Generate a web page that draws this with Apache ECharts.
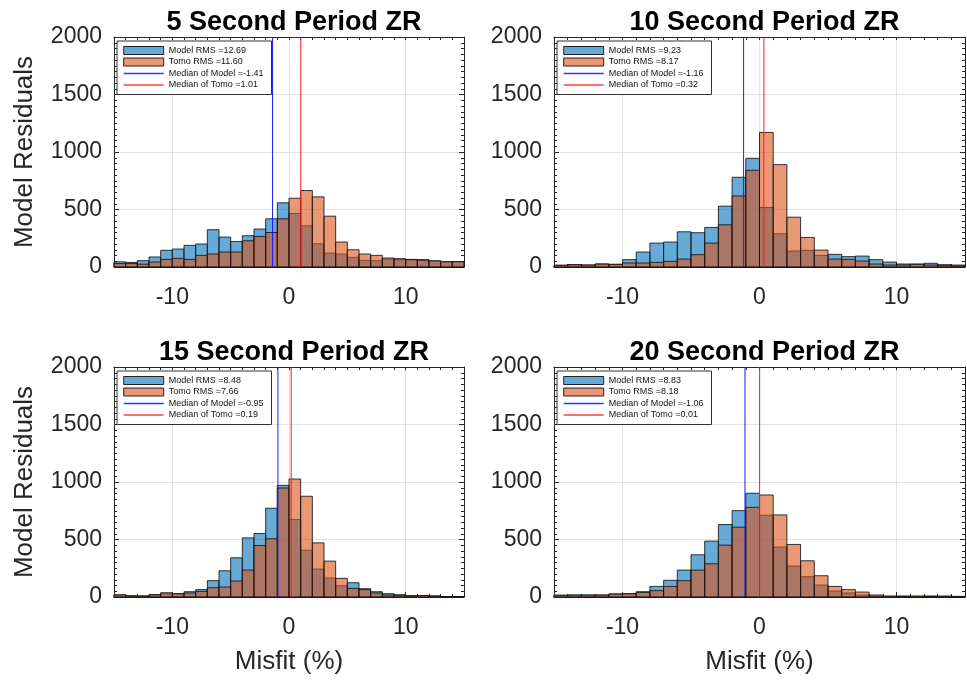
<!DOCTYPE html>
<html>
<head>
<meta charset="utf-8">
<script src="https://cdn.jsdelivr.net/npm/echarts@6/dist/echarts.min.js"></script>
<style>
html,body{margin:0;padding:0;background:#fff;}
#chart{width:967px;height:681px;}
</style>
</head>
<body>
<div id="chart"></div>
<script>
// ---------- DATA ----------
var binEdges = [-15,-14,-13,-12,-11,-10,-9,-8,-7,-6,-5,-4,-3,-2,-1,0,1,2,3,4,5,6,7,8,9,10,11,12,13,14,15];
var xTickLabels = [-10, 0, 10];
var yTicks = [0, 500, 1000, 1500, 2000];

var titles = ["5 Second Period ZR", "10 Second Period ZR", "15 Second Period ZR", "20 Second Period ZR"];

var model5  = [45,40,55,87,145,156,188,200,324,260,222,272,330,419,558,465,358,202,121,113,84,58,55,69,70,66,64,50,46,46];
var tomo5   = [30,30,25,43,66,75,66,101,113,130,130,228,266,300,419,598,665,610,442,217,150,113,101,78,70,64,60,55,46,46];
var model10 = [15,20,17,26,23,64,130,208,217,306,298,344,529,780,945,517,289,139,145,101,110,90,95,64,43,26,26,32,20,17];
var tomo10  = [15,20,17,26,23,35,35,40,49,69,107,208,367,618,841,1170,890,433,257,147,69,66,52,26,17,17,23,17,14,9];
var model15 = [15,10,9,20,30,29,46,64,142,228,341,514,552,772,971,673,407,243,165,98,124,72,46,29,20,12,12,9,3,3];
var tomo15  = [20,10,9,20,37,29,35,49,81,87,139,234,448,506,948,1026,876,471,312,162,75,64,35,17,12,9,12,9,3,3];
var model20 = [15,17,17,17,26,29,46,92,145,234,367,486,630,751,902,711,434,269,176,104,52,35,17,9,3,9,3,9,3,5];
var tomo20  = [15,17,17,17,26,29,40,55,92,142,234,289,451,607,780,887,714,457,315,185,92,64,43,17,9,3,9,3,9,5];

var modelRMS = ["12.69", "9.23", "8.48", "8.83"];
var tomoRMS  = ["11.60", "8.17", "7.66", "8.18"];
var modelMedian = [-1.41, -1.16, -0.95, -1.06];
var tomoMedian  = [1.01, 0.32, 0.19, 0.01];
var medianLabelModel = ["-1.41", "-1.16", "-0.95", "-1.06"];
var medianLabelTomo  = ["1.01", "0.32", "0.19", "0.01"];

var modelCounts = [model5, model10, model15, model20];
var tomoCounts  = [tomo5, tomo10, tomo15, tomo20];

// ---------- LAYOUT / STYLE ----------
var layout = [
  {left:114, top:37,  width:350, height:230, yName:true,  xName:false},
  {left:554, top:37,  width:411, height:230, yName:false, xName:false},
  {left:114, top:367, width:350, height:230, yName:true,  xName:true},
  {left:554, top:367, width:411, height:230, yName:false, xName:true}
];
var FONT = "'Liberation Sans', Arial, Helvetica, sans-serif";
var AXC = '#262626';
var modelFill = 'rgba(0,114,189,0.6)';
var tomoFill  = 'rgba(217,83,25,0.6)';
var edgeCol   = 'rgba(20,20,20,0.85)';
var blueLine  = '#1a1aff';
var redLine   = '#ff1a1a';

function pairs(counts){
  var out = [];
  for (var i = 0; i < counts.length; i++) out.push([binEdges[i], binEdges[i+1], counts[i]]);
  return out;
}
function histRender(fill){
  return function(params, api){
    var x0 = api.value(0), x1 = api.value(1), v = api.value(2);
    var p0 = api.coord([x0, v]);
    var p1 = api.coord([x1, 0]);
    return {
      type:'rect',
      shape:{x:p0[0], y:p0[1], width:p1[0]-p0[0], height:p1[1]-p0[1]},
      style:{fill:fill, stroke:edgeCol, lineWidth:1}
    };
  };
}

var option = {
  animation:false,
  backgroundColor:'#fff',
  title:[], grid:[], xAxis:[], yAxis:[], series:[], legend:[]
};

for (var p = 0; p < 4; p++){
  var L = layout[p];
  option.grid.push({left:L.left, top:L.top, width:L.width, height:L.height, containLabel:false});
  option.title.push({
    text:titles[p], left:L.left + L.width/2, top:L.top - 33, textAlign:'center',
    textStyle:{fontFamily:FONT, fontSize:27, fontWeight:'bold', color:'#000'}
  });
  // main bottom x axis
  option.xAxis.push({
    type:'value', gridIndex:p, position:'bottom', min:-15, max:15, interval:5,
    axisLine:{show:true, onZero:false, lineStyle:{color:AXC, width:1}},
    axisTick:{show:true, inside:true, length:5, customValues:xTickLabels, lineStyle:{color:AXC}},
    axisLabel:{show:true, customValues:xTickLabels, margin:19, fontSize:23, color:AXC, fontFamily:FONT},
    splitLine:{show:true, lineStyle:{color:'#e2e2e2', width:1}},
    name:L.xName ? 'Misfit (%)' : '', nameLocation:'middle', nameGap:52,
    nameTextStyle:{fontSize:26, color:AXC, fontFamily:FONT}
  });
  // minor ticks bottom
  option.xAxis.push({
    type:'value', gridIndex:p, position:'bottom', min:-15, max:15, interval:1,
    axisLine:{show:false, onZero:false},
    axisTick:{show:true, inside:true, length:3, lineStyle:{color:AXC}},
    axisLabel:{show:false}, splitLine:{show:false}
  });
  // top axis
  option.xAxis.push({
    type:'value', gridIndex:p, position:'top', min:-15, max:15, interval:1,
    axisLine:{show:true, onZero:false, lineStyle:{color:AXC, width:1}},
    axisTick:{show:true, inside:true, length:3, lineStyle:{color:AXC}},
    axisLabel:{show:false}, splitLine:{show:false}
  });
  // left y
  option.yAxis.push({
    type:'value', gridIndex:p, position:'left', min:0, max:2000, interval:500,
    axisLine:{show:true, onZero:false, lineStyle:{color:AXC, width:1}},
    axisTick:{show:true, inside:true, length:5, lineStyle:{color:AXC}},
    minorTick:{show:true, splitNumber:10, length:3, lineStyle:{color:AXC}},
    axisLabel:{show:true, margin:12, fontSize:23, color:AXC, fontFamily:FONT,
               formatter:function(v){ return String(v); }},
    splitLine:{show:true, lineStyle:{color:'#e2e2e2', width:1}},
    name:L.yName ? 'Model Residuals' : '', nameLocation:'middle', nameGap:76,
    nameTextStyle:{fontSize:26, color:AXC, fontFamily:FONT}
  });
  // right y
  option.yAxis.push({
    type:'value', gridIndex:p, position:'right', min:0, max:2000, interval:500,
    axisLine:{show:true, onZero:false, lineStyle:{color:AXC, width:1}},
    axisTick:{show:true, inside:true, length:5, lineStyle:{color:AXC}},
    minorTick:{show:true, splitNumber:10, length:3, lineStyle:{color:AXC}},
    axisLabel:{show:false}, splitLine:{show:false}
  });

  var nModel = 'Model RMS =' + modelRMS[p];
  var nTomo  = 'Tomo RMS =' + tomoRMS[p];
  var nMedM  = 'Median of Model =' + medianLabelModel[p];
  var nMedT  = 'Median of Tomo =' + medianLabelTomo[p];

  option.series.push({
    type:'custom', name:nModel, xAxisIndex:3*p, yAxisIndex:2*p,
    renderItem:histRender(modelFill), data:pairs(modelCounts[p]),
    encode:{x:[0,1], y:2}, itemStyle:{color:modelFill}, z:2
  });
  option.series.push({
    type:'custom', name:nTomo, xAxisIndex:3*p, yAxisIndex:2*p,
    renderItem:histRender(tomoFill), data:pairs(tomoCounts[p]),
    encode:{x:[0,1], y:2}, itemStyle:{color:tomoFill}, z:2
  });
  option.series.push({
    type:'line', name:nMedM, xAxisIndex:3*p, yAxisIndex:2*p, symbol:'none',
    data:[[modelMedian[p], 0], [modelMedian[p], 2000]],
    lineStyle:{color:blueLine, width:1}, itemStyle:{color:blueLine}, z:3
  });
  option.series.push({
    type:'line', name:nMedT, xAxisIndex:3*p, yAxisIndex:2*p, symbol:'none',
    data:[[tomoMedian[p], 0], [tomoMedian[p], 2000]],
    lineStyle:{color:redLine, width:1}, itemStyle:{color:redLine}, z:3
  });

  option.legend.push({
    orient:'vertical', left:L.left + 3, top:L.top + 4,
    itemWidth:40, itemHeight:8, itemGap:2.5,
    padding:[5, 8, 5, 6],
    backgroundColor:'#fff', borderColor:'#333', borderWidth:1,
    textStyle:{fontSize:9, color:'#111', fontFamily:FONT, padding:[0,0,0,0]},
    selectedMode:false,
    data:[
      {name:nModel, icon:'rect', itemStyle:{color:modelFill, borderColor:'#222', borderWidth:1}},
      {name:nTomo,  icon:'rect', itemStyle:{color:tomoFill, borderColor:'#222', borderWidth:1}},
      {name:nMedM, itemStyle:{opacity:0}, lineStyle:{color:'#3333ff', width:1.4, opacity:1}},
      {name:nMedT, itemStyle:{opacity:0}, lineStyle:{color:'#ff4040', width:1.4, opacity:1}}
    ]
  });
}

var chart = echarts.init(document.getElementById('chart'), null, {renderer:'canvas'});
chart.setOption(option);
</script>
</body>
</html>
